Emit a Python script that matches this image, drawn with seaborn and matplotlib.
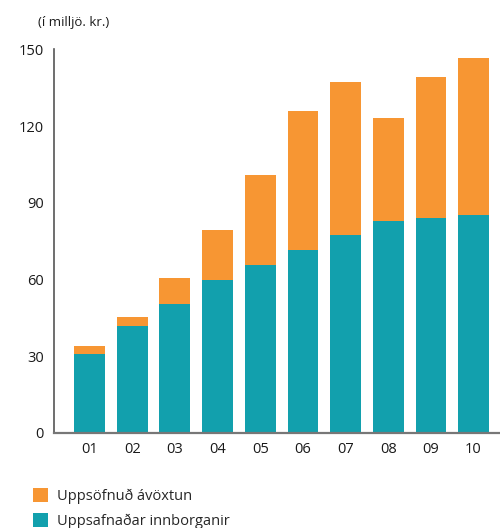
import matplotlib
matplotlib.use("Agg")
import matplotlib.pyplot as plt
import seaborn as sns
import pandas as pd
from matplotlib.patches import Patch

ar = ["01", "02", "03", "04", "05", "06", "07", "08", "09", "10"]
innborganir = [30.8, 41.7, 50.4, 59.7, 65.6, 71.5, 77.3, 82.8, 84.0, 85.1]
avoxtun = [3.1, 3.6, 10.1, 19.5, 35.2, 54.4, 59.9, 40.3, 55.1, 61.5]
yticks = [0, 30, 60, 90, 120, 150]
label_avoxtun = "Uppsöfnuð ávöxtun"
label_innb = "Uppsafnaðar innborganir"
unit_label = "(í milljö. kr.)"

ORANGE = "#F79633"
TEAL = "#12A0AD"

sns.set_style("white")
plt.rcParams["font.family"] = ["Open Sans", "DejaVu Sans"]

df = pd.DataFrame({
    "ar": ar,
    "innb": innborganir,
    "total": [a + b for a, b in zip(innborganir, avoxtun)],
})

fig = plt.figure(figsize=(5.0, 5.28), dpi=100)
ax = fig.add_axes([0.107, 0.1805, 0.893, 0.726])

sns.barplot(data=df, x="ar", y="total", color=ORANGE, saturation=1, width=0.72,
            ax=ax, order=ar, linewidth=0, edgecolor="none")
sns.barplot(data=df, x="ar", y="innb", color=TEAL, saturation=1, width=0.72,
            ax=ax, order=ar, linewidth=0, edgecolor="none")

ax.set_xlim(-0.844, 9.62)
ax.set_ylim(0, 150)
ax.set_yticks(yticks)
ax.set_xlabel("")
ax.set_ylabel("")

for s in ["top", "right"]:
    ax.spines[s].set_visible(False)
ax.spines["left"].set_color("#555555")
ax.spines["bottom"].set_color("#777777")
ax.spines["left"].set_linewidth(1.2)
ax.spines["bottom"].set_linewidth(1.6)

ax.tick_params(axis="y", direction="in", length=9, width=1.2, color="#333333",
               labelsize=10.5, pad=6.8, labelcolor="#1a1a1a")
ax.tick_params(axis="x", length=0, labelsize=10.5, pad=7, labelcolor="#1a1a1a")

fig.text(0.076, 0.957, unit_label, fontsize=9.5, color="#1a1a1a", ha="left", va="center")

handles = [Patch(facecolor=ORANGE, edgecolor="none"), Patch(facecolor=TEAL, edgecolor="none")]
fig.legend(handles, [label_avoxtun, label_innb], loc="upper left",
           bbox_to_anchor=(0.066, 0.075), frameon=False, fontsize=10.5,
           handlelength=1.05, handleheight=1.05, handletextpad=0.6,
           labelspacing=0.62, borderpad=0, borderaxespad=0)

fig.savefig("out.png", dpi=100)
